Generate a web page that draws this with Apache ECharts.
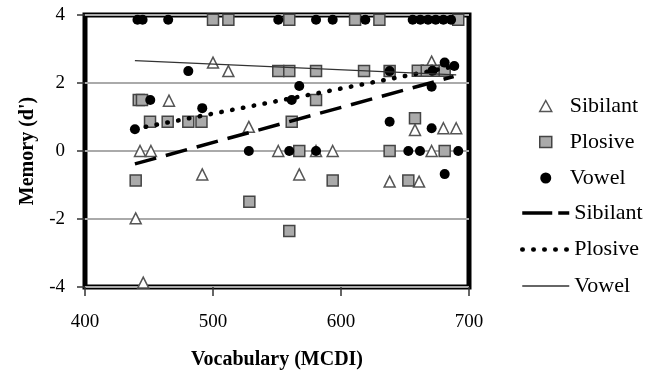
<!DOCTYPE html>
<html>
<head>
<meta charset="utf-8">
<script src="https://cdn.jsdelivr.net/npm/echarts@6/dist/echarts.min.js"></script>
<style>
  html, body { margin: 0; padding: 0; background: #fff; }
  #chart { width: 654px; height: 373px; }
</style>
</head>
<body>
<div id="chart"></div>
<script>
// scatter points [vocabulary, memory d']
var sibilantPts = [
  [443, 0], [451.5, 0], [491.6, -0.69], [439.6, -1.98], [445.5, -3.87],
  [500, 2.6], [512, 2.35], [465.6, 1.48], [528, 0.71], [551, 0],
  [593.5, 0], [567.4, -0.69], [638, -0.9], [670.8, 2.63], [657.8, 0.62],
  [680, 0.67], [690, 0.67], [670.8, 0], [661, -0.9], [580.5, 0]
];
var plosivePts = [
  [500, 3.86], [512, 3.86], [559.6, 3.86], [611, 3.86], [630, 3.86], [691.6, 3.86],
  [551, 2.35], [559.6, 2.35], [580.5, 2.35], [618, 2.35], [638, 2.35],
  [660, 2.36], [667, 2.36], [674.7, 2.36], [681, 2.36],
  [442, 1.5], [444.5, 1.5], [580.5, 1.5],
  [450.8, 0.86], [464.6, 0.86], [480.7, 0.86], [491, 0.86], [561.5, 0.86], [657.8, 0.96],
  [567.4, 0], [638, 0], [681, 0],
  [439.6, -0.87], [593.5, -0.87], [652.6, -0.87],
  [528.4, -1.49], [559.6, -2.35]
];
var vowelPts = [
  [441, 3.86], [445, 3.86], [465, 3.86], [551, 3.86], [580.5, 3.86], [593.5, 3.86],
  [619, 3.86], [656, 3.86], [662, 3.86], [668, 3.86], [674, 3.86], [680, 3.86], [686, 3.86],
  [480.7, 2.35], [638, 2.35], [671.5, 2.36], [681, 2.6], [688.5, 2.5],
  [567.4, 1.91], [670.8, 1.89],
  [451, 1.5], [561.5, 1.5], [491.6, 1.26],
  [638, 0.86], [439, 0.64], [670.8, 0.67],
  [528, 0], [559.6, 0], [580.5, 0], [652.6, 0], [661.7, 0], [691.6, 0],
  [681, -0.68]
];
// fitted trend lines (end points)
var sibilantFit = [[439, -0.38], [688, 2.19]];
var plosiveFit = [[439, 0.65], [690, 2.5]];
var vowelFit = [[439, 2.66], [690, 2.24]];

var xTicks = { min: 400, max: 700, interval: 100 };
var yTicks = { min: -4, max: 4, interval: 2 };

var serif = "Liberation Serif";
var dashType = [22, 10];
var dotType = [0.5, 10.5];

var myChart = echarts.init(document.getElementById("chart"));
var option = {
  animation: false,
  grid: {
    left: 85, right: 185, top: 15, bottom: 86,
    outerBoundsMode: "none",
    show: true, borderColor: "#000", borderWidth: 5, backgroundColor: "#fff"
  },
  legend: [
    {
      orient: "vertical",
      left: 534, top: 89,
      itemWidth: 12, itemHeight: 11, itemGap: 12,
      textStyle: { fontFamily: serif, fontSize: 22, color: "#000", lineHeight: 24, padding: [0, 0, 0, 13] },
      data: [
        { name: "Sibilant", icon: "triangle", itemStyle: { color: "#fff", borderColor: "#555", borderWidth: 1.5 } },
        { name: "Plosive", icon: "rect", itemStyle: { color: "#aaa", borderColor: "#444", borderWidth: 1.5 } },
        { name: "Vowel", icon: "circle", itemStyle: { color: "#000" } }
      ]
    },
    {
      orient: "vertical",
      left: 515, top: 196,
      itemWidth: 47, itemHeight: 11, itemGap: 12.5,
      textStyle: { fontFamily: serif, fontSize: 22, color: "#000", lineHeight: 24 },
      data: [
        { name: "Sibilant ", lineStyle: { color: "#000", width: 3.5, type: [30, 6] } },
        { name: "Plosive ", lineStyle: { color: "#000", width: 4.5, type: dotType, cap: "round" } },
        { name: "Vowel ", lineStyle: { color: "#333", width: 1.3 } }
      ]
    }
  ],
  xAxis: {
    type: "value",
    min: xTicks.min, max: xTicks.max, interval: xTicks.interval,
    name: "Vocabulary (MCDI)",
    nameLocation: "middle", nameGap: 63,
    nameTextStyle: { fontFamily: serif, fontSize: 20, fontWeight: "bold", color: "#000" },
    axisLine: { show: false, onZero: false },
    axisTick: { show: true, inside: false, length: 9, lineStyle: { color: "#333", width: 1.5 } },
    axisLabel: { margin: 26, fontFamily: serif, fontSize: 19, color: "#000" },
    splitLine: { show: false }
  },
  yAxis: {
    type: "value",
    min: yTicks.min, max: yTicks.max, interval: yTicks.interval,
    name: "Memory (d')",
    nameLocation: "middle", nameGap: 45,
    nameTextStyle: { fontFamily: serif, fontSize: 20, fontWeight: "bold", color: "#000" },
    axisLine: { show: false, onZero: false },
    axisTick: { show: true, inside: false, length: 8, lineStyle: { color: "#333", width: 1.5 } },
    axisLabel: { margin: 20, fontFamily: serif, fontSize: 19, color: "#000" },
    splitLine: { show: true, lineStyle: { color: "#aaa", width: 2 } }
  },
  series: [
    {
      name: "Sibilant", type: "scatter", symbol: "triangle", symbolSize: 11,
      itemStyle: { color: "#fff", borderColor: "#555", borderWidth: 1.5, opacity: 1 },
      data: sibilantPts
    },
    {
      name: "Plosive", type: "scatter", symbol: "rect", symbolSize: 11,
      itemStyle: { color: "#aaa", borderColor: "#444", borderWidth: 1.5, opacity: 1 },
      data: plosivePts
    },
    {
      name: "Vowel", type: "scatter", symbol: "circle", symbolSize: 10,
      itemStyle: { color: "#000", opacity: 1 },
      data: vowelPts
    },
    {
      name: "Sibilant ", type: "line", symbol: "none",
      itemStyle: { color: "rgba(0,0,0,0)" },
      lineStyle: { color: "#000", width: 3.5, type: dashType },
      data: sibilantFit
    },
    {
      name: "Plosive ", type: "line", symbol: "none",
      itemStyle: { color: "rgba(0,0,0,0)" },
      lineStyle: { color: "#000", width: 4.5, type: dotType, cap: "round" },
      data: plosiveFit
    },
    {
      name: "Vowel ", type: "line", symbol: "none",
      itemStyle: { color: "rgba(0,0,0,0)" },
      lineStyle: { color: "#333", width: 1.3 },
      data: vowelFit
    }
  ]
};
myChart.setOption(option);
</script>
</body>
</html>
